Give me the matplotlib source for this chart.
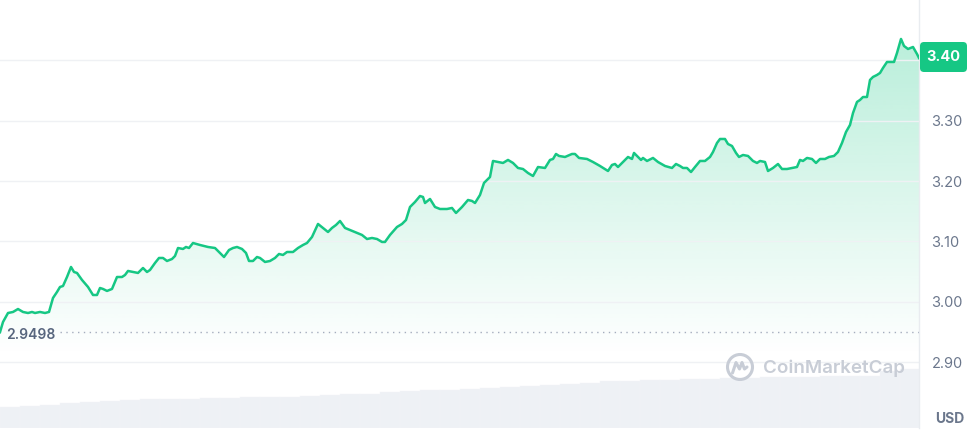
import numpy as np
import matplotlib
matplotlib.use("Agg")
import matplotlib.pyplot as plt
from matplotlib.patches import Polygon, Circle, FancyBboxPatch
from matplotlib.lines import Line2D

plt.rcParams['font.family'] = ['Inter', 'DejaVu Sans']

# ---- data ----
time_idx = [0, 3, 8, 13, 18, 23, 28, 32, 35, 40, 45, 49, 53, 57, 60, 63, 67, 71, 74, 77, 82, 88, 93, 97,
            100, 103, 107, 112, 117, 122, 125, 128, 133, 138, 143, 147, 150, 155, 159, 163, 167, 172, 175,
            178, 183, 186, 189, 193, 200, 208, 215, 220, 224, 229, 233, 237, 242, 246, 249, 253, 257, 260,
            265, 270, 275, 279, 283, 287, 293, 298, 303, 307, 312, 318, 323, 328, 332, 336, 340, 345, 350,
            355, 362, 367, 372, 377, 382, 385, 390, 397, 402, 406, 410, 415, 420, 423, 425, 430, 435, 440,
            447, 452, 456, 462, 468, 472, 475, 480, 484, 490, 493, 498, 503, 508, 513, 518, 523, 528, 533,
            538, 545, 550, 553, 556, 559, 565, 572, 575, 579, 587, 593, 600, 608, 612, 615, 618, 623, 628,
            632, 634, 637, 641, 643, 647, 653, 658, 665, 672, 676, 680, 683, 687, 691, 695, 700, 705, 710,
            713, 717, 720, 725, 728, 732, 736, 739, 743, 748, 753, 757, 760, 765, 768, 773, 778, 782, 787,
            792, 797, 800, 803, 807, 812, 816, 820, 825, 829, 834, 838, 842, 846, 850, 853, 857, 860, 863,
            867, 870, 873, 877, 880, 883, 887, 894, 897, 901, 904, 908, 913, 917, 919]

price = [2.9498, 2.9667, 2.9816, 2.9833, 2.9882, 2.9833, 2.9816, 2.9833, 2.9816, 2.9833, 2.9816, 2.9833,
         3.0065, 3.0164, 3.0247, 3.0263, 3.0412, 3.0578, 3.0495, 3.0479, 3.0363, 3.0247, 3.0114, 3.0114,
         3.0230, 3.0214, 3.0181, 3.0214, 3.0412, 3.0412, 3.0445, 3.0512, 3.0495, 3.0479, 3.0561, 3.0495,
         3.0528, 3.0644, 3.0727, 3.0727, 3.0677, 3.0710, 3.0760, 3.0892, 3.0876, 3.0909, 3.0892, 3.0975,
         3.0942, 3.0909, 3.0892, 3.0810, 3.0743, 3.0859, 3.0892, 3.0909, 3.0876, 3.0810, 3.0677, 3.0677,
         3.0743, 3.0727, 3.0661, 3.0677, 3.0727, 3.0793, 3.0777, 3.0826, 3.0826, 3.0892, 3.0942, 3.0975,
         3.1075, 3.1290, 3.1224, 3.1157, 3.1224, 3.1273, 3.1339, 3.1224, 3.1190, 3.1157, 3.1108, 3.1041,
         3.1058, 3.1041, 3.0992, 3.0992, 3.1108, 3.1240, 3.1290, 3.1356, 3.1571, 3.1654, 3.1753, 3.1737,
         3.1637, 3.1704, 3.1571, 3.1538, 3.1538, 3.1555, 3.1472, 3.1571, 3.1687, 3.1671, 3.1637, 3.1770,
         3.1969, 3.2068, 3.2333, 3.2316, 3.2300, 3.2350, 3.2300, 3.2217, 3.2200, 3.2134, 3.2084, 3.2233,
         3.2217, 3.2350, 3.2366, 3.2449, 3.2416, 3.2399, 3.2449, 3.2449, 3.2383, 3.2366, 3.2316, 3.2250,
         3.2167, 3.2267, 3.2283, 3.2233, 3.2316, 3.2399, 3.2366, 3.2466, 3.2416, 3.2350, 3.2383, 3.2333,
         3.2383, 3.2316, 3.2250, 3.2217, 3.2283, 3.2250, 3.2217, 3.2217, 3.2150, 3.2233, 3.2333, 3.2333,
         3.2399, 3.2482, 3.2631, 3.2697, 3.2697, 3.2614, 3.2581, 3.2466, 3.2399, 3.2432, 3.2416, 3.2333,
         3.2300, 3.2333, 3.2316, 3.2167, 3.2217, 3.2283, 3.2200, 3.2200, 3.2217, 3.2233, 3.2350, 3.2333,
         3.2383, 3.2366, 3.2300, 3.2366, 3.2366, 3.2399, 3.2416, 3.2482, 3.2631, 3.2813, 3.2929, 3.3127,
         3.3310, 3.3343, 3.3392, 3.3392, 3.3674, 3.3724, 3.3757, 3.3790, 3.3873, 3.3972, 3.3972, 3.4121,
         3.4353, 3.4237, 3.4187, 3.4220, 3.4104, 3.4038]

volume_idx = [10, 30, 50, 70, 90, 110, 130, 150, 170, 190, 210, 230, 250, 270, 290, 310, 330, 350, 370, 390,
              410, 430, 450, 470, 490, 510, 530, 550, 570, 590, 610, 630, 650, 670, 690, 710, 730, 750, 770,
              790, 810, 830, 850, 870, 890, 910]
volume = [21, 22, 23, 25, 26, 27.5, 28.5, 29, 29.5, 29.5, 30, 30.5, 31, 31, 31.5, 32, 33, 34, 34.5, 36,
          37.5, 38, 38.5, 39.5, 40, 41, 42, 43, 44, 45.5, 47, 47.5, 48, 48.5, 49, 49.5, 50, 50.5, 51, 51,
          51.5, 52, 52, 52.5, 57, 59]

yticks = [2.90, 3.00, 3.10, 3.20, 3.30, 3.40]
open_price = 2.9498
last_price_label = "3.40"

# ---- figure ----
W, H, DPI = 968, 438, 100
fig = plt.figure(figsize=(W / DPI, H / DPI), dpi=DPI)
fig.patch.set_facecolor('white')

pos = [0, 10 / H, 919 / W, 428 / H]
ax2 = fig.add_axes(pos, zorder=0)
ax = fig.add_axes(pos, zorder=1)
ax.patch.set_visible(False)

xmin, xmax = 0, 919
ymin, ymax = 2.7912, 3.4998

# volume bars
ax2.bar(volume_idx, volume, width=20, color='#eef1f5', edgecolor='#f3f5f8', linewidth=0.3, align='center')
ax2.set_xlim(xmin, xmax)
ax2.set_ylim(0, 428)
ax2.axis('off')

# gradient fill under the line
t = np.array(time_idx, dtype=float)
p = np.array(price)
verts = np.vstack([np.column_stack([t, p]), [[t[-1], ymin], [t[0], ymin]]])
poly = Polygon(verts, closed=True, facecolor='none', edgecolor='none')
ax.add_patch(poly)
n = 256
rgba = np.zeros((n, 1, 4))
rgba[..., 0] = 22 / 255
rgba[..., 1] = 199 / 255
rgba[..., 2] = 132 / 255
rgba[:, 0, 3] = np.linspace(0.30, 0.0, n)
im = ax.imshow(rgba, extent=[xmin, xmax, 2.91, 3.44], aspect='auto', origin='upper',
               interpolation='bilinear', zorder=1)
im.set_clip_path(poly)

# line
ax.plot(t, p, color='#16c784', linewidth=1.8, zorder=3, solid_joinstyle='round')

# open price dotted line
ax.hlines(open_price, 60, xmax, colors='#a5adbe', linestyles=(0, (1, 3.2)), linewidth=1.0, zorder=2)
ax.text(6, open_price - 0.004, f"{open_price:.4f}", color='#58667e', fontsize=10, fontweight='semibold',
        va='center', ha='left', zorder=4)

ax.set_xlim(xmin, xmax)
ax.set_ylim(ymin, ymax)
ax.set_yticks(yticks)
ax.set_yticklabels([f"{v:.2f}" if v < 3.35 else "" for v in yticks])
ax.yaxis.tick_right()
ax.tick_params(axis='y', length=0, pad=9, labelsize=10.5, labelcolor='#6b778c')
ax.set_xticks([])
ax.grid(axis='y', color='#eff1f4', linewidth=1.0, zorder=0)
for s in ['top', 'left', 'bottom']:
    ax.spines[s].set_visible(False)
ax.spines['right'].set_color('#e9ecf0')
ax.spines['right'].set_linewidth(1.0)

# USD label
fig.text(950 / W, 1 - 419 / H, "USD", color='#6b778c', fontsize=10, fontweight='bold', ha='center', va='center')

# badge (current price)
inch = fig.dpi_scale_trans
bx0, by_top, bw, bh = 920, 42, 47, 30
badge = FancyBboxPatch(((bx0) / DPI, (H - by_top - bh) / DPI), bw / DPI, bh / DPI,
                       boxstyle="round,pad=0,rounding_size=0.04", transform=inch,
                       facecolor='#16c784', edgecolor='none', zorder=10)
fig.patches.append(badge)
fig.text((bx0 + bw / 2) / W, 1 - (by_top + bh / 2) / H, last_price_label, color='white', fontsize=10.5,
         fontweight='bold', ha='center', va='center', zorder=11)

# watermark
wm_color = '#c8cdd6'
cx, cy, r = 740 / DPI, (H - 367) / DPI, 0.125
fig.patches.append(Circle((cx, cy), r, transform=inch, facecolor='none', edgecolor=wm_color, linewidth=2.2))
mx = np.array([-0.075, -0.04, -0.005, 0.02, 0.045, 0.07]) + cx
my = np.array([-0.06, 0.045, -0.02, 0.045, -0.02, -0.0]) + cy
fig.lines.append(Line2D(mx, my, transform=inch, color=wm_color, linewidth=2.2, solid_joinstyle='round',
                        solid_capstyle='round'))
fig.text(763 / W, 1 - 368 / H, "CoinMarketCap", color=wm_color, fontsize=13.5, fontweight='semibold',
         ha='left', va='center')

fig.savefig('out.png', dpi=DPI, facecolor='white')
